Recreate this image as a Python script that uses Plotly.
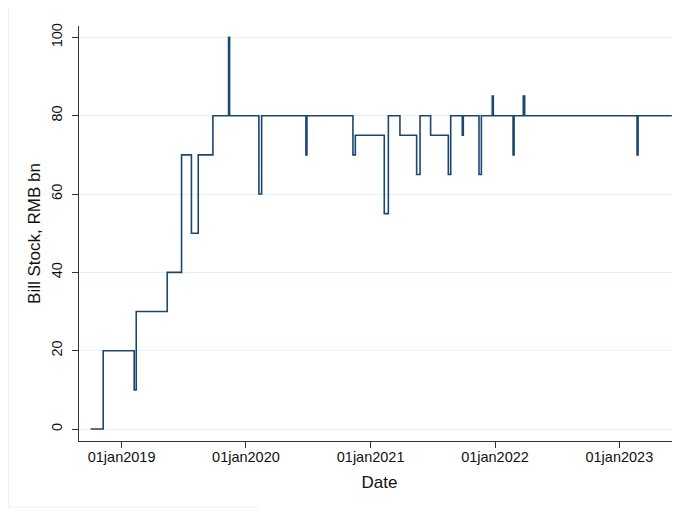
import plotly.graph_objects as go
from datetime import date, timedelta

# Step-change dates and the bill stock (RMB bn) from each date onward
change_dates = [
    "2018-10-02", "2018-11-08", "2019-02-07", "2019-02-13", "2019-05-15",
    "2019-06-26", "2019-07-25", "2019-08-14", "2019-09-26", "2019-11-11",
    "2019-11-14", "2020-02-08", "2020-02-16", "2020-06-25", "2020-06-28",
    "2020-11-10", "2020-11-17", "2021-02-10", "2021-02-22", "2021-03-28",
    "2021-05-16", "2021-05-26", "2021-06-26", "2021-08-17", "2021-08-24",
    "2021-09-27", "2021-09-30", "2021-11-15", "2021-11-22", "2021-12-24",
    "2021-12-27", "2022-02-23", "2022-02-26", "2022-03-25", "2022-03-29",
    "2023-02-22", "2023-02-25", "2023-06-04",
]
bill_stock = [
    0, 20, 10, 30, 40,
    70, 50, 70, 80, 100,
    80, 60, 80, 70, 80,
    70, 75, 55, 80, 75,
    65, 80, 75, 65, 80,
    75, 80, 65, 80, 85,
    80, 70, 80, 85, 80,
    70, 80, 80,
]

x_tick_dates = ["2019-01-01", "2020-01-01", "2021-01-01", "2022-01-01", "2023-01-01"]
x_tick_labels = ["01jan2019", "01jan2020", "01jan2021", "01jan2022", "01jan2023"]
y_tick_vals = [0, 20, 40, 60, 80, 100]
y_tick_labels = ["0", "20", "40", "60", "80", "100"]

NAVY = "#1a476f"
FONT = "Liberation Sans, Arial, sans-serif"

# x-axis range
base = date(2019, 1, 1)
x_left = (base - timedelta(days=125)).isoformat()
x_right = (base + timedelta(days=1639)).isoformat()

fig = go.Figure()
fig.add_trace(go.Scatter(
    x=change_dates, y=bill_stock, mode="lines", line_shape="hv",
    line=dict(color=NAVY, width=1.6), showlegend=False, hoverinfo="skip",
))

# the page body adds an 8px margin, so the figure is 8px smaller each way
fig.update_layout(
    width=672, height=505,
    margin=dict(l=71, r=0, t=18, b=72),
    paper_bgcolor="white", plot_bgcolor="white",
    font=dict(family=FONT, color="#111111", size=14),
    xaxis=dict(
        range=[x_left, x_right], type="date", automargin=False,
        tickvals=x_tick_dates, ticktext=x_tick_labels,
        ticks="outside", ticklen=6, tickcolor="#333333", tickwidth=1,
        ticklabelstandoff=-3,
        showline=True, linecolor="#333333", linewidth=1,
        showgrid=False, zeroline=False,
        tickfont=dict(size=14.5, color="#111111"),
        title=dict(text="Date", font=dict(size=17, color="#111111"), standoff=11),
    ),
    yaxis=dict(
        range=[-3.06, 102.9], automargin=False,
        tickvals=y_tick_vals, ticktext=y_tick_labels, tickangle=-90,
        ticks="outside", ticklen=6, tickcolor="#333333", tickwidth=1,
        ticklabelstandoff=4,
        showline=True, linecolor="#333333", linewidth=1,
        showgrid=True, gridcolor="#e9f0f2", gridwidth=1.2,
        zeroline=False,
        tickfont=dict(size=14.5, color="#111111"),
        title=dict(text="Bill Stock, RMB bn", font=dict(size=17, color="#111111"), standoff=4),
    ),
)

# faint outer frame (left edge and part of bottom)
pw, ph = 601.0, 415.0
def px(xp):
    return (xp - 71) / pw
def py(yp):
    return (433 - yp) / ph
fig.add_shape(type="line", xref="paper", yref="paper",
              x0=px(0.5), x1=px(0.5), y0=py(0), y1=py(499),
              line=dict(color="#f0f0f0", width=1))
fig.add_shape(type="line", xref="paper", yref="paper",
              x0=px(0.5), x1=px(250), y0=py(499), y1=py(499),
              line=dict(color="#f0f0f0", width=1))

fig.write_html("out.html")
